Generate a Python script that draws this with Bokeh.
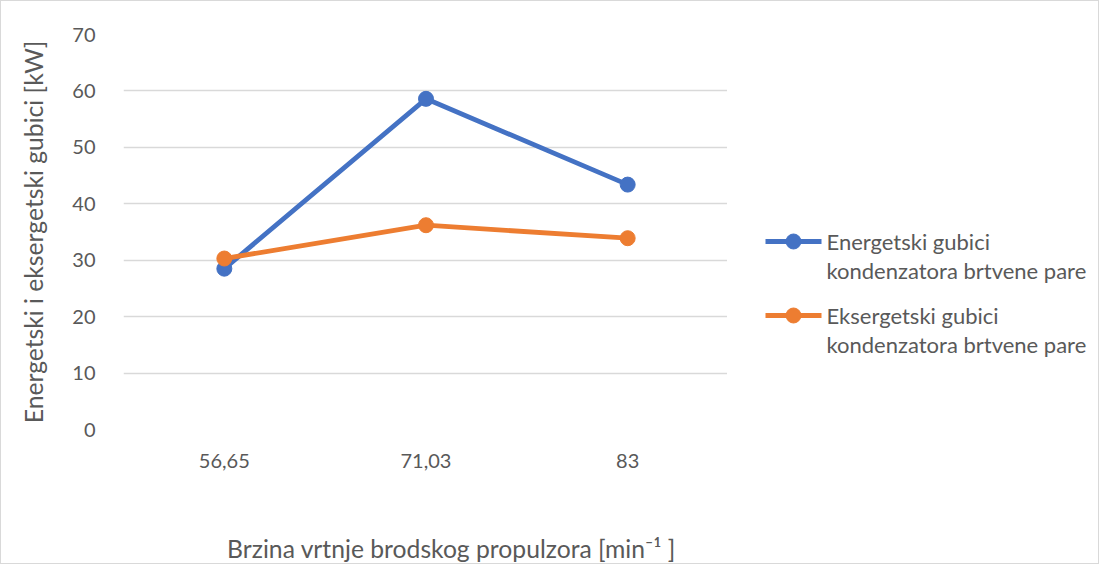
from bokeh.plotting import figure
from bokeh.layouts import row, column
from bokeh.models import FixedTicker, ColumnDataSource, Range1d
from bokeh.core.properties import value
from bokeh.embed import file_html
from bokeh.resources import INLINE

categories = ["56,65", "71,03", "83"]
energetski = [28.5, 58.6, 43.4]
eksergetski = [30.3, 36.2, 33.9]
series_lines = [["Energetski gubici", "kondenzatora brtvene pare"],
                ["Eksergetski gubici", "kondenzatora brtvene pare"]]
y_title = "Energetski i eksergetski gubici [kW]"
x_title = "Brzina vrtnje brodskog propulzora [min\u207b\u00b9 ]"

FONT = "Lato"
TXT = "#595959"
BORDER = "1px solid #d9d9d9"
blue = "#4472C4"
orange = "#ED7D31"
colors = [blue, orange]


def blank(fig):
    fig.outline_line_color = None
    fig.grid.visible = False


# ---------------- main chart ----------------
p = figure(x_range=categories, y_range=(0, 70), width=727, height=500,
           output_backend="svg", toolbar_location=None,
           min_border_left=122, min_border_right=0, min_border_top=33,
           min_border_bottom=72)
p.styles = {"border-left": BORDER, "border-top": BORDER, "box-sizing": "border-box"}
p.outline_line_color = None
p.x_range.range_padding = 0
p.yaxis.ticker = FixedTicker(ticks=[0, 10, 20, 30, 40, 50, 60, 70])
p.ygrid.grid_line_color = "#d9d9d9"
p.ygrid.grid_line_width = 1.3
p.xgrid.grid_line_color = None

for ax in (p.xaxis[0], p.yaxis[0]):
    ax.axis_line_color = None
    ax.major_tick_line_color = None
    ax.minor_tick_line_color = None
    ax.major_label_text_font = FONT
    ax.major_label_text_font_size = "20px"
    ax.major_label_text_color = TXT
    ax.axis_label_text_font = FONT
    ax.axis_label_text_font_size = "24.7px"
    ax.axis_label_text_color = TXT
    ax.axis_label_text_font_style = "normal"

p.yaxis.axis_label = y_title
p.xaxis.major_label_standoff = 18
p.yaxis.major_label_standoff = 22
p.yaxis.axis_label_standoff = 21

for vals, col in zip([energetski, eksergetski], colors):
    src = ColumnDataSource(dict(x=categories, y=vals))
    p.line("x", "y", source=src, line_color=col, line_width=4.8)
    p.scatter("x", "y", source=src, size=15, fill_color=col, line_color=col)

# ---------------- legend panel (coords: px from panel left / figure top) ----
lg = figure(width=372, height=500, output_backend="svg", toolbar_location=None,
            x_range=Range1d(0, 372), y_range=Range1d(428, 33),
            x_axis_type=None, y_axis_type=None,
            min_border_left=0, min_border_right=0,
            min_border_top=33, min_border_bottom=72)
lg.styles = {"border-right": BORDER, "border-top": BORDER, "box-sizing": "border-box"}
blank(lg)

entry_y = [240, 314]
line_gap = 29
for (lines, col, y0) in zip(series_lines, colors, entry_y):
    lg.line([38, 94], [y0, y0], line_color=col, line_width=4.8)
    lg.scatter([66], [y0], size=15, fill_color=col, line_color=col)
    lg.text([99, 99], [y0, y0 + line_gap], text=lines,
            text_font=value(FONT), text_font_size="22px", text_color=TXT,
            text_baseline="middle", text_align="left")

# ---------------- x-axis title strip (coords: page px) ----------------
xb = figure(width=727, height=64, output_backend="svg", toolbar_location=None,
            x_range=Range1d(130, 735), y_range=Range1d(572, 508),
            x_axis_type=None, y_axis_type=None,
            min_border_left=122, min_border_right=0,
            min_border_top=0, min_border_bottom=0)
xb.styles = {"border-left": BORDER, "border-bottom": BORDER, "box-sizing": "border-box"}
blank(xb)
xb.text([458], [556], text=[x_title], text_font=value(FONT),
        text_font_size="24.7px", text_color=TXT,
        text_baseline="middle", text_align="center")

filler = figure(width=372, height=64, output_backend="svg", toolbar_location=None,
                x_range=Range1d(0, 1), y_range=Range1d(0, 1),
                x_axis_type=None, y_axis_type=None,
                min_border_left=0, min_border_right=0,
                min_border_top=0, min_border_bottom=0)
filler.styles = {"border-right": BORDER, "border-bottom": BORDER,
                 "box-sizing": "border-box"}
blank(filler)

layout = column(row(p, lg, spacing=0), row(xb, filler, spacing=0), spacing=0)
open("out.html", "w").write(file_html(layout, INLINE))
